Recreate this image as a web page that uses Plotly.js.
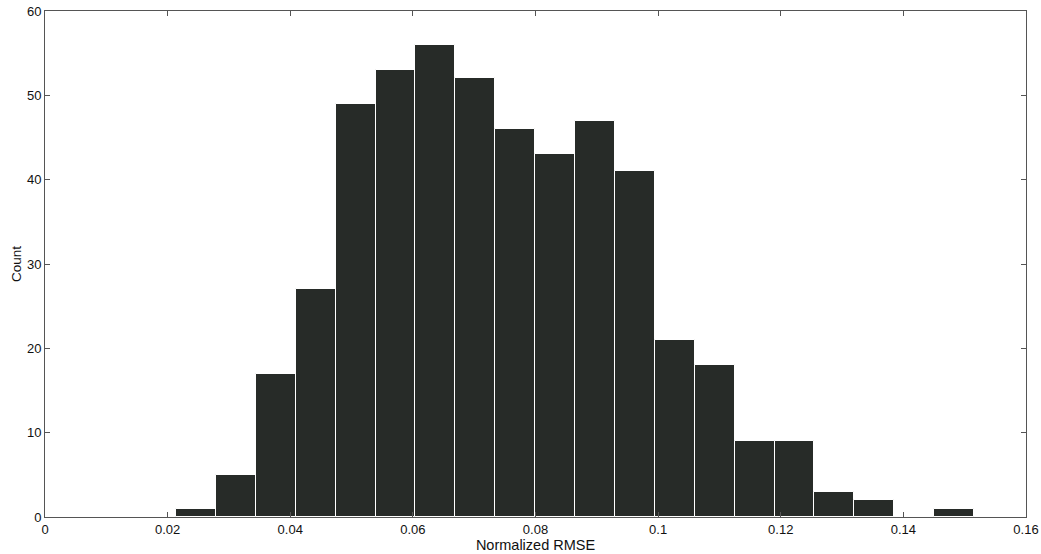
<!DOCTYPE html>
<html><head><meta charset="utf-8">
<script src="https://cdn.plot.ly/plotly-3.0.1.min.js"></script>
<style>html,body{margin:0;padding:0;background:#fff}</style>
</head><body><div id="chart" style="width:1041px;height:554px"></div>
<script>
const binStart = 0.02137;
const binWidth = 0.0065075;
const counts = [1, 5, 17, 27, 49, 53, 56, 52, 46, 43, 47, 41, 21, 18, 9, 9, 3, 2, 0, 1];
const binCenters = counts.map((_, i) => binStart + binWidth * (i + 0.5));
const xTicks = [0, 0.02, 0.04, 0.06, 0.08, 0.1, 0.12, 0.14, 0.16];
const xTickLabels = ['0', '0.02', '0.04', '0.06', '0.08', '0.1', '0.12', '0.14', '0.16'];
const yTicks = [0, 10, 20, 30, 40, 50, 60];

const trace = {
  type: 'bar', x: binCenters, y: counts, width: binWidth,
  marker: {color: '#272b28', line: {color: '#ffffff', width: 1}},
  hoverinfo: 'x+y'
};
const fam = 'Liberation Sans, Arial, sans-serif';
const tickFont = {family: fam, size: 13, color: '#111'};
const layout = {
  width: 1041, height: 554,
  margin: {l: 45, r: 15, t: 11, b: 37},
  paper_bgcolor: '#fff', plot_bgcolor: '#fff',
  font: tickFont, showlegend: false, bargap: 0,
  xaxis: {
    range: [0, 0.16], tickvals: xTicks, ticktext: xTickLabels,
    ticks: 'inside', ticklen: 5, tickcolor: '#555', mirror: 'ticks',
    showline: true, linecolor: '#555', linewidth: 1, showgrid: false, zeroline: false,
    tickfont: tickFont,
    title: {text: 'Normalized RMSE', font: {family: fam, size: 14.5, color: '#111'}, standoff: 2}
  },
  yaxis: {
    range: [0, 60], tickvals: yTicks,
    ticks: 'inside', ticklen: 5, tickcolor: '#555', mirror: 'ticks',
    showline: true, linecolor: '#555', linewidth: 1, showgrid: false, zeroline: false,
    tickfont: tickFont,
    title: {text: 'Count', font: {family: fam, size: 13.5, color: '#111'}, standoff: 2}
  }
};
Plotly.newPlot('chart', [trace], layout, {displayModeBar: false});
</script></body></html>
